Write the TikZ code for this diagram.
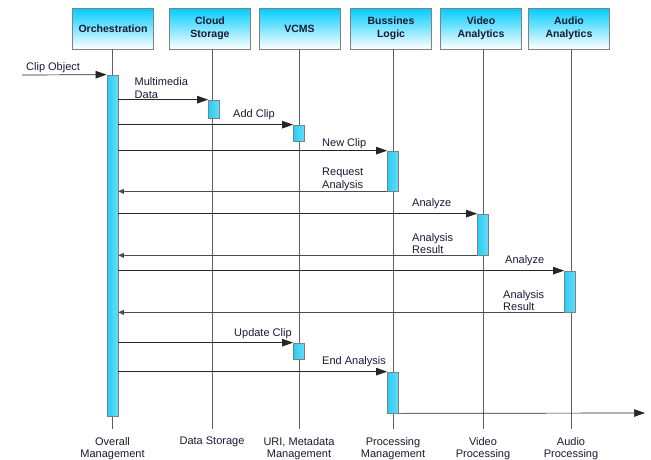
\documentclass[tikz,border=0pt]{standalone}
\usepackage{fontspec}
\setmainfont{Liberation Sans}
\usetikzlibrary{positioning,arrows.meta}
\definecolor{headtop}{RGB}{0,204,255}
\definecolor{barcyan}{RGB}{40,205,245}
\definecolor{frame}{RGB}{128,128,128}
\definecolor{wire}{RGB}{95,95,95}
\definecolor{ink}{RGB}{25,25,50}
\newcommand{\hdfont}{\fontsize{10.5}{12.5}\selectfont}
\newcommand{\lbfont}{\fontsize{11}{12.5}\selectfont}

\begin{document}
\begin{tikzpicture}[x=1pt,y=-1pt]
    \tikzstyle{head}=[draw=frame, line width=0.9pt, top color=headtop, bottom color=white, minimum width=81pt, minimum height=41pt, inner sep=1pt, align=center, text=ink, font=\bfseries\hdfont]
    \tikzstyle{life}=[draw=wire, line width=0.8pt]
    \tikzstyle{act}=[draw=frame, line width=0.7pt, left color=barcyan, middle color=white, right color=barcyan!70, minimum width=11pt, inner sep=0pt]
    \tikzstyle{call}=[draw=black!85, line width=0.7pt, -{Triangle[length=11pt,width=7.5pt]}]
    \tikzstyle{ret}=[draw=black!70, line width=0.7pt, -{Triangle[length=5.5pt,width=5pt]}]
    \tikzstyle{msg}=[anchor=south west, inner sep=0pt, align=left, text=ink, font=\lbfont]
    \tikzstyle{foot}=[anchor=north, inner sep=0pt, align=center, text=ink, font=\lbfont]
    \useasboundingbox (0,0) rectangle (651,459);

    % heads
    \node[head] (orch) at (113,28.5) {Orchestration};
    \node[head] (cloud) at (210,28.5) {Cloud\\Storage};
    \node[head] (vcms) at (299.5,28.5) {VCMS};
    \node[head] (logic) at (391,28.5) {Bussines\\Logic};
    \node[head] (video) at (481,28.5) {Video\\Analytics};
    \node[head] (audio) at (569,28.5) {Audio\\Analytics};

    % lifelines
    \coordinate (oe) at (112.5,429);
    \coordinate (ce) at (212,429);
    \coordinate (ve) at (299,429);
    \coordinate (le) at (393,429);
    \coordinate (de) at (483,429);
    \coordinate (ae) at (571,429);
    \draw[life] (orch.south -| oe) -- (oe);
    \draw[life] (cloud.south -| ce) -- (ce);
    \draw[life] (vcms.south -| ve) -- (ve);
    \draw[life] (logic.south -| le) -- (le);
    \draw[life] (video.south -| de) -- (de);
    \draw[life] (audio.south -| ae) -- (ae);

    % activations
    \node[act, minimum height=341pt] (oa) at (112.5,245.5) {};
    \node[act, minimum height=18pt] (ca) at (214,109) {};
    \node[act, minimum height=16pt] (va1) at (299,133) {};
    \node[act, minimum height=40pt] (la1) at (393,171) {};
    \node[act, minimum height=41pt] (da) at (483,234.5) {};
    \node[act, minimum height=41pt] (aa) at (570,291.5) {};
    \node[act, minimum height=16pt] (va2) at (299,351) {};
    \node[act, minimum height=41pt] (la2) at (393,392.5) {};

    % messages
    \coordinate (in) at (22,75);
    \coordinate (out) at (645,413);
    \draw[call] (in) -- (oa.north west);
    \draw[call] (oa.east |- ca.north) -- (ca.north west);
    \draw[call] (oa.east |- va1.north) -- (va1.north west);
    \draw[call] (oa.east |- la1.north) -- (la1.north west);
    \draw[ret] (la1.south west) -- (oa.east |- la1.south);
    \draw[call] (oa.east |- da.north) -- (da.north west);
    \draw[ret] (da.south west) -- (oa.east |- da.south);
    \draw[call] (oa.east |- aa.north) -- (aa.north west);
    \draw[ret] (aa.south west) -- (oa.east |- aa.south);
    \draw[call] (oa.east |- va2.north) -- (va2.north west);
    \draw[call] (oa.east |- la2.north) -- (la2.north west);
    \draw[call] (la2.south east) -- (out);

    % labels
    \node[msg] (clip) at (26,73) {Clip Object};
    \node[msg] (media) at (134.5,98.5) {Multimedia\\Data};
    \node[msg] (add) at (233,120) {Add Clip};
    \node[msg] (new) at (322,149) {New Clip};
    \node[msg] (req) at (322,190.5) {Request\\Analysis};
    \node[msg] (anv) at (412,209) {Analyze};
    \node[msg] (resv) at (412,254) {Analysis\\Result};
    \node[msg] (ana) at (505,266) {Analyze};
    \node[msg] (resa) at (503,311) {Analysis\\Result};
    \node[msg] (upd) at (234,339) {Update Clip};
    \node[msg] (endan) at (322,367) {End Analysis};

    \node[foot, below=8pt of oe] (f1) {Overall\\Management};
    \node[foot, below=8pt of ce] (f2) {Data Storage};
    \node[foot, below=8pt of ve] (f3) {URI, Metadata\\Management};
    \node[foot, below=8pt of le] (f4) {Processing\\Management};
    \node[foot, below=8pt of de] (f5) {Video\\Processing};
    \node[foot, below=8pt of ae] (f6) {Audio\\Processing};
\end{tikzpicture}
\end{document}
